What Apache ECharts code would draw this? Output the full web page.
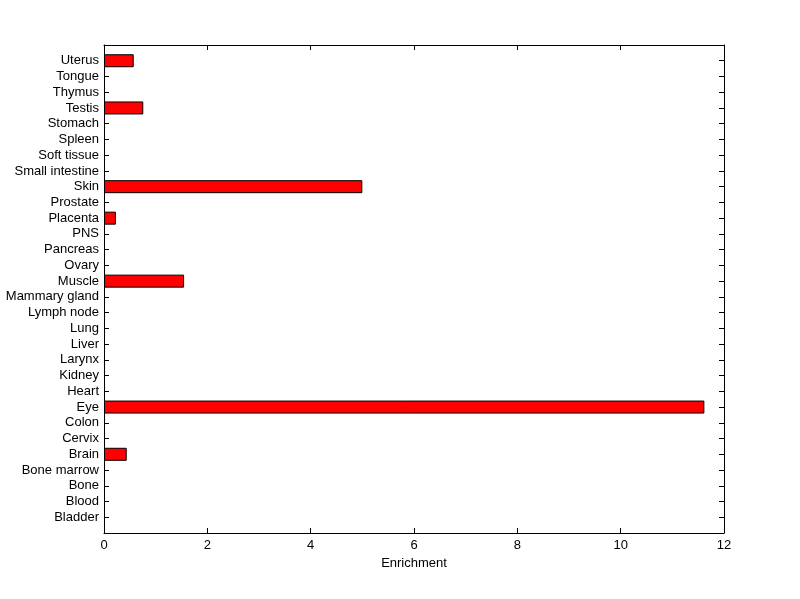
<!DOCTYPE html>
<html><head><meta charset="utf-8">
<script src="https://cdn.jsdelivr.net/npm/echarts@6/dist/echarts.min.js"></script>
<style>html,body{margin:0;padding:0;background:#fff}#c{width:800px;height:599px}</style>
</head><body><div id="c"></div>
<script>
const categories = ["Bladder","Blood","Bone","Bone marrow","Brain","Cervix","Colon","Eye","Heart","Kidney","Larynx","Liver","Lung","Lymph node","Mammary gland","Muscle","Ovary","Pancreas","PNS","Placenta","Prostate","Skin","Small intestine","Soft tissue","Spleen","Stomach","Testis","Thymus","Tongue","Uterus"];
const enrichment = [0,0,0,0,0.44,0,0,11.62,0,0,0,0,0,0,0,1.55,0,0,0,0.23,0,5.0,0,0,0,0,0.76,0,0,0.575];
const xTicks = [0,2,4,6,8,10,12];

const cats = [""].concat(categories, [""]);
const vals = [null].concat(enrichment.map(v => v === 0 ? null : v), [null]);
const font = {fontFamily: "Liberation Sans, Arial, sans-serif", fontSize: 13, color: "#000"};
const axLine = {show: true, onZero: false, lineStyle: {color: "#000", width: 1}};
const axTick = {show: true, inside: true, length: 5, lineStyle: {color: "#000", width: 1}};
const chart = echarts.init(document.getElementById('c'), null, {renderer: 'canvas'});
chart.setOption({
  animation: false,
  backgroundColor: "#fff",
  grid: {left: 104, right: 76, top: 45, bottom: 66, containLabel: false},
  xAxis: [{
    type: 'value', min: xTicks[0], max: xTicks[xTicks.length-1], interval: 2, position: 'bottom',
    axisLine: axLine, axisTick: axTick,
    axisLabel: Object.assign({margin: 6}, font),
    splitLine: {show: false},
    name: "Enrichment", nameLocation: 'middle', nameGap: 23,
    nameTextStyle: font
  },{
    type: 'value', min: xTicks[0], max: xTicks[xTicks.length-1], interval: 2, position: 'top',
    axisLine: axLine, axisTick: axTick,
    axisLabel: {show: false}, splitLine: {show: false}
  }],
  yAxis: [{
    type: 'category', data: cats, boundaryGap: false, position: 'left',
    axisLine: axLine, axisTick: axTick,
    axisLabel: Object.assign({margin: 5, interval: 0}, font),
    splitLine: {show: false}
  },{
    type: 'category', data: cats, boundaryGap: false, position: 'right',
    axisLine: axLine, axisTick: axTick,
    axisLabel: {show: false}, splitLine: {show: false}
  }],
  series: [{
    type: 'bar', xAxisIndex: 0, yAxisIndex: 0, data: vals, barWidth: 13,
    itemStyle: {color: "#ff0000", borderColor: "#000", borderWidth: 1}
  }]
});
</script></body></html>
